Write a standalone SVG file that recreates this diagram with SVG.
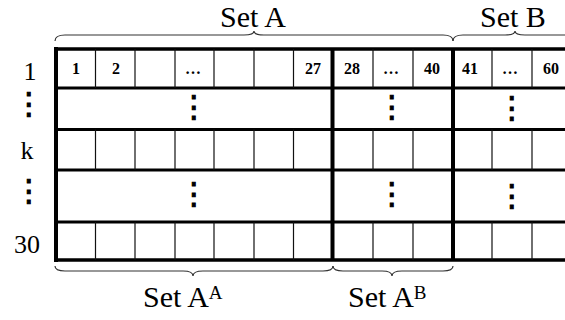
<svg xmlns="http://www.w3.org/2000/svg" width="565" height="320" viewBox="0 0 565 320">
<style>
.thick{stroke:#000;stroke-width:3.5;fill:none}
.mid{stroke:#000;stroke-width:3;fill:none}
.thin{stroke:#111;stroke-width:1.2;fill:none}
.brace{stroke:#333;stroke-width:1.2;fill:none}
text{font-family:'Liberation Serif','Times New Roman',serif;fill:#000}
.lbl{font-size:26px;text-anchor:middle}
.cell{font-size:16px;font-weight:bold;text-anchor:middle}
.set{font-size:30px}
.sup{font-size:19px}
.vd{font-family:'DejaVu Sans',sans-serif;font-size:30px;text-anchor:middle;stroke:#000;stroke-width:1}
</style>
<rect width="565" height="320" fill="#fff"/>
<g id="grid">
  <path class="mid" d="M54,88H565M54,129.5H565M54,170H565M54,222H565"/>
  <path class="thick" d="M54,49H565M54,260H565"/>
  <path class="thick" d="M56,47V262M332.5,49V260M453,49V260" style="stroke-width:4"/>
  <path class="thin" d="M95.5,49V88M135,49V88M175,49V88M214,49V88M254,49V88M293.5,49V88M373,49V88M413,49V88M492,49V88M532,49V88"/>
  <path class="thin" d="M95.5,129.5V170M135,129.5V170M175,129.5V170M214,129.5V170M254,129.5V170M293.5,129.5V170M373,129.5V170M413,129.5V170M492,129.5V170M532,129.5V170"/>
  <path class="thin" d="M95.5,222V260M135,222V260M175,222V260M214,222V260M254,222V260M293.5,222V260M373,222V260M413,222V260M492,222V260M532,222V260"/>
</g>
<g id="cells">
  <text class="cell" x="76" y="74">1</text>
  <text class="cell" x="116" y="74">2</text>
  <text class="cell" x="193" y="74">…</text>
  <text class="cell" x="313" y="74">27</text>
  <text class="cell" x="352" y="74">28</text>
  <text class="cell" x="391" y="74">…</text>
  <text class="cell" x="432" y="74">40</text>
  <text class="cell" x="470" y="74">41</text>
  <text class="cell" x="510" y="74">…</text>
  <text class="cell" x="551" y="74">60</text>
  <text class="vd" x="194" y="117">⋮</text>
  <text class="vd" x="392" y="117">⋮</text>
  <text class="vd" x="512" y="118">⋮</text>
  <text class="vd" x="194" y="204">⋮</text>
  <text class="vd" x="392" y="204">⋮</text>
  <text class="vd" x="512" y="206">⋮</text>
</g>
<g id="row-labels">
  <text class="lbl" x="30" y="80">1</text>
  <text class="vd" x="29" y="114">⋮</text>
  <text class="lbl" x="27" y="159">k</text>
  <text class="vd" x="29" y="201">⋮</text>
  <text class="lbl" x="27" y="253">30</text>
</g>
<g id="braces">
  <path class="brace" d="M55,41Q55,35 65,35H244Q254,35 254,31Q254,35 264,35H443Q453,35 453,41"/>
  <path class="brace" d="M453,41Q453,35 463,35H505Q515,35 515,31Q515,35 525,35H567Q577,35 577,41"/>
  <path class="brace" d="M55,266Q55,271 65,271H183Q193,271 193,276Q193,271 203,271H323Q333,271 333,266"/>
  <path class="brace" d="M333,266Q333,271 343,271H382Q392,271 392,276Q392,271 402,271H443Q453,271 453,266"/>
</g>
<g id="set-labels">
  <text class="set" x="220" y="27">Set A</text>
  <text class="set" x="480" y="27">Set B</text>
  <text class="set" x="143" y="307">Set A<tspan class="sup" dy="-8">A</tspan></text>
  <text class="set" x="348" y="307">Set A<tspan class="sup" dy="-8">B</tspan></text>
</g>
</svg>
